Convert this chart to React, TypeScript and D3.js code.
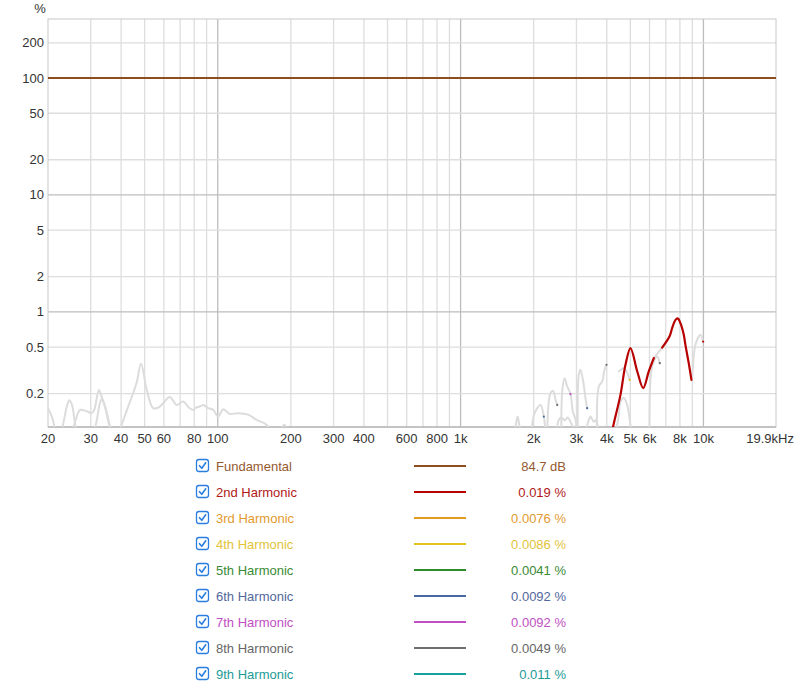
import React from "react";
import * as d3 from "d3";

// ---- data ----
const freqTicks: number[] = [20, 30, 40, 50, 60, 80, 100, 200, 300, 400, 600, 800, 1000, 2000, 3000, 4000, 5000, 6000, 8000, 10000];
const freqTickLabels: string[] = ["20", "30", "40", "50", "60", "80", "100", "200", "300", "400", "600", "800", "1k", "2k", "3k", "4k", "5k", "6k", "8k", "10k"];
const pctTicks: number[] = [200, 100, 50, 20, 10, 5, 2, 1, 0.5, 0.2];
const pctTickLabels: string[] = ["200", "100", "50", "20", "10", "5", "2", "1", "0.5", "0.2"];

const legendNames: string[] = ["Fundamental", "2nd Harmonic", "3rd Harmonic", "4th Harmonic", "5th Harmonic", "6th Harmonic", "7th Harmonic", "8th Harmonic", "9th Harmonic"];
const legendValues: string[] = ["84.7 dB", "0.019 %", "0.0076 %", "0.0086 %", "0.0041 %", "0.0092 %", "0.0092 %", "0.0049 %", "0.011 %"];

const fundamentalPct = 100;

// 2nd harmonic [Hz, %]
const secondHarmonic: [number, number][] = [
  [4200, 0.09], [4250, 0.105], [4554, 0.195], [4775, 0.352], [5007, 0.49], [5341, 0.309],
  [5648, 0.223], [5955, 0.309], [6245, 0.402], [6761, 0.495], [7247, 0.615], [7434, 0.725],
  [7674, 0.854], [7840, 0.88], [8040, 0.8], [8300, 0.636], [8430, 0.522], [8700, 0.364], [8925, 0.262],
];
const secondBelowNoise: [number, number] = [6245, 6761];

// harmonics that stay under the noise floor (drawn grey)
const noiseA: [number, number][] = [[20, 0.15], [20.8, 0.125], [21.5, 0.09]];
const noiseB: [number, number][] = [[22.6, 0.09], [23.3, 0.12], [24, 0.16], [24.5, 0.175], [25.1, 0.16], [25.7, 0.12], [26.2, 0.09]];
const noiseC: [number, number][] = [[25.1, 0.09], [26.2, 0.125], [27.1, 0.145], [28.85, 0.141], [30.25, 0.136], [31.0, 0.145], [32.4, 0.215], [33.2, 0.19], [34.3, 0.155], [35.3, 0.12], [36.6, 0.09]];
const noiseD: [number, number][] = [[30.8, 0.09], [31.8, 0.12], [32.7, 0.165], [33.3, 0.18], [34.2, 0.16], [35.3, 0.125], [36.5, 0.09]];
const noiseE: [number, number][] = [
  [38.9, 0.09], [42.8, 0.155], [46.3, 0.246], [48.3, 0.359], [51.0, 0.216], [54.2, 0.15], [57, 0.152],
  [59.7, 0.166], [63.5, 0.187], [67.7, 0.16], [72.1, 0.171], [76, 0.152], [79.3, 0.145], [81.5, 0.152],
  [84.4, 0.155], [87.1, 0.16], [91.4, 0.15], [95.8, 0.145], [100.4, 0.127], [105.3, 0.147], [112, 0.134],
  [121.4, 0.136], [133.5, 0.132], [144.5, 0.119], [158.9, 0.108], [166, 0.092],
];
const noiseF: [number, number][] = [[180, 0.095], [188, 0.108], [195, 0.095]];
const noiseG: [number, number][] = [[1650, 0.09], [1684, 0.105], [1717, 0.127], [1749, 0.105], [1780, 0.09]];
const noiseH: [number, number][] = [[1960, 0.09], [2002, 0.13], [2068, 0.15], [2134, 0.16], [2202, 0.127], [2240, 0.09]];
const noiseI: [number, number][] = [[2274, 0.09], [2346, 0.202], [2407, 0.211], [2460, 0.177], [2500, 0.16]];
const noiseJ: [number, number][] = [[2600, 0.09], [2621, 0.208], [2679, 0.271], [2749, 0.23], [2836, 0.198], [2900, 0.14], [2973, 0.12], [3010, 0.09]];
const noiseK: [number, number][] = [[3040, 0.09], [3067, 0.289], [3117, 0.319], [3198, 0.254], [3268, 0.183], [3321, 0.15]];
const noiseL: [number, number][] = [[3650, 0.09], [3709, 0.23], [3830, 0.254], [3914, 0.319], [3989, 0.352]];
const noiseM: [number, number][] = [[2480, 0.09], [2540, 0.12], [2600, 0.125], [2680, 0.118], [2760, 0.125], [2850, 0.112], [2930, 0.1], [3000, 0.09]];
const noiseN: [number, number][] = [[3250, 0.09], [3380, 0.12], [3430, 0.127], [3530, 0.115], [3594, 0.118], [3700, 0.1], [3770, 0.09]];
const noiseO: [number, number][] = [[4344, 0.09], [4480, 0.13], [4554, 0.171], [4699, 0.183], [4853, 0.16], [4974, 0.119], [5050, 0.09]];
const noiseP: [number, number][] = [[4481, 0.31], [4699, 0.33], [4775, 0.32], [4974, 0.262]];
const noiseQ: [number, number][] = [[6000, 0.09], [6151, 0.341], [6450, 0.415], [6611, 0.364]];
const noiseR: [number, number][] = [[8950, 0.26], [8985, 0.271], [9270, 0.522], [9721, 0.636], [9972, 0.557]];
const noiseTraces = [noiseA, noiseB, noiseC, noiseD, noiseE, noiseF, noiseG, noiseH, noiseI, noiseJ, noiseK, noiseL, noiseM, noiseN, noiseO, noiseP, noiseQ, noiseR];

// short points where a harmonic pokes above the floor: [Hz, %, legend row]
const harmonicDots: [number, number, number][] = [
  [2202, 0.127, 5], [2500, 0.16, 7], [2836, 0.198, 6], [3321, 0.15, 5],
  [3989, 0.352, 7], [4974, 0.262, 3], [6611, 0.364, 7], [9972, 0.557, 1],
];

// ---- styles ----
const COLORS = ["#8f4d1f", "#b70000", "#e39a1e", "#e2c21c", "#2f8a2c", "#4a69a3", "#c14ec4", "#6f6f6f", "#17a09c"];
const TEXT_COLORS = ["#955a30", "#b01818", "#e39a2e", "#e2c43a", "#3a8a34", "#52679c", "#c050c2", "#666666", "#1d9a97"];
const FONT = "'Liberation Sans', Arial, Helvetica, sans-serif";
const NOISE = "#dcdcdc";

const W = 800;
const H = 689;
const left = 48, right = 776, top = 19, bottom = 427;

export default function App(): React.ReactElement {
  const x = d3.scaleLog().domain([20, 19900]).range([left, right]);
  const y = d3.scaleLog().domain([0.1035, 320]).range([bottom, top]);

  const line = d3.line<[number, number]>()
    .x((d) => x(d[0]))
    .y((d) => y(d[1]))
    .curve(d3.curveCatmullRom.alpha(0.5));

  const gridFreqs: number[] = [];
  [10, 100, 1000, 10000].forEach((dec) => {
    for (let m = 1; m <= 9; m++) {
      const f = m * dec;
      if (f > 20 && f < 19900) gridFreqs.push(f);
    }
  });

  const redA = secondHarmonic.filter((d) => d[0] <= secondBelowNoise[0]);
  const redGap = secondHarmonic.filter((d) => d[0] >= secondBelowNoise[0] && d[0] <= secondBelowNoise[1]);
  const redB = secondHarmonic.filter((d) => d[0] >= secondBelowNoise[1]);

  const rowY = (i: number) => 466 + i * 26;

  return (
    <svg width={W} height={H} style={{position: "absolute", left: 0, top: 0, background: "#fff"}} fontFamily={FONT}>
      <defs>
        <clipPath id="plot">
          <rect x={left} y={top} width={right - left} height={bottom - top} />
        </clipPath>
      </defs>
      <rect x={0} y={0} width={W} height={H} fill="#fff" />

      {/* grid */}
      {gridFreqs.map((f) => {
        const dec = Math.abs(Math.log10(f) - Math.round(Math.log10(f))) < 1e-9;
        return <line key={"gx" + f} x1={x(f)} x2={x(f)} y1={top} y2={bottom} stroke={dec ? "#bdbdbd" : "#dedede"} strokeWidth={dec ? 1.3 : 1.3} />;
      })}
      {pctTicks.map((p) => {
        const dec = Math.abs(Math.log10(p) - Math.round(Math.log10(p))) < 1e-9;
        return <line key={"gy" + p} x1={left} x2={right} y1={y(p)} y2={y(p)} stroke={dec ? "#bdbdbd" : "#dedede"} strokeWidth={1.3} />;
      })}
      <rect x={left} y={top} width={right - left} height={bottom - top} fill="none" stroke="#c8c8c8" strokeWidth={1} />
      <line x1={left} x2={right} y1={bottom} y2={bottom} stroke="#b8b8b8" strokeWidth={1.3} />

      {/* curves */}
      <g clipPath="url(#plot)" fill="none" strokeLinejoin="round" strokeLinecap="round">
        {noiseTraces.map((t, i) => (
          <path key={"n" + i} d={line(t) ?? ""} stroke={NOISE} strokeWidth={2} />
        ))}
        <path d={line(redGap) ?? ""} stroke={NOISE} strokeWidth={2} />
        <path d={line(redA) ?? ""} stroke={COLORS[1]} strokeWidth={2.2} />
        <path d={line(redB) ?? ""} stroke={COLORS[1]} strokeWidth={2.2} />
        {harmonicDots.map((d, i) => (
          <circle key={"dot" + i} cx={x(d[0])} cy={y(d[1])} r={1.1} fill={COLORS[d[2]]} />
        ))}
        <line x1={left} x2={right} y1={y(fundamentalPct)} y2={y(fundamentalPct)} stroke={COLORS[0]} strokeWidth={2} />
      </g>

      {/* axes labels */}
      <text x={40} y={13} fontSize={13} fill="#333" textAnchor="middle">%</text>
      {pctTicks.map((p, i) => (
        <text key={"ty" + p} x={44} y={y(p) + 4.5} fontSize={13} fill="#333" textAnchor="end">{pctTickLabels[i]}</text>
      ))}
      {freqTicks.map((f, i) => (
        <text key={"tx" + f} x={x(f)} y={443} fontSize={13} fill="#333" textAnchor="middle">{freqTickLabels[i]}</text>
      ))}
      <text x={794} y={443} fontSize={13} fill="#333" textAnchor="end">19.9kHz</text>

      {/* legend */}
      {legendNames.map((name, i) => (
        <g key={"lg" + i}>
          <rect x={196.5} y={rowY(i) - 6.5} width={12} height={12} rx={2.5} fill="#fff" stroke="#2b7de0" strokeWidth={1.3} />
          <path d={`M${199.5},${rowY(i) - 0.3} L${201.8},${rowY(i) + 2.3} L${205.7},${rowY(i) - 3.2}`} fill="none" stroke="#2b7de0" strokeWidth={1.6} strokeLinecap="round" strokeLinejoin="round" />
          <text x={216} y={rowY(i) + 4.5} fontSize={13} fill={TEXT_COLORS[i]}>{name}</text>
          <line x1={414} x2={466} y1={rowY(i)} y2={rowY(i)} stroke={COLORS[i]} strokeWidth={2} />
          <text x={566} y={rowY(i) + 4.5} fontSize={13} fill={TEXT_COLORS[i]} textAnchor="end">{legendValues[i]}</text>
        </g>
      ))}
    </svg>
  );
}
